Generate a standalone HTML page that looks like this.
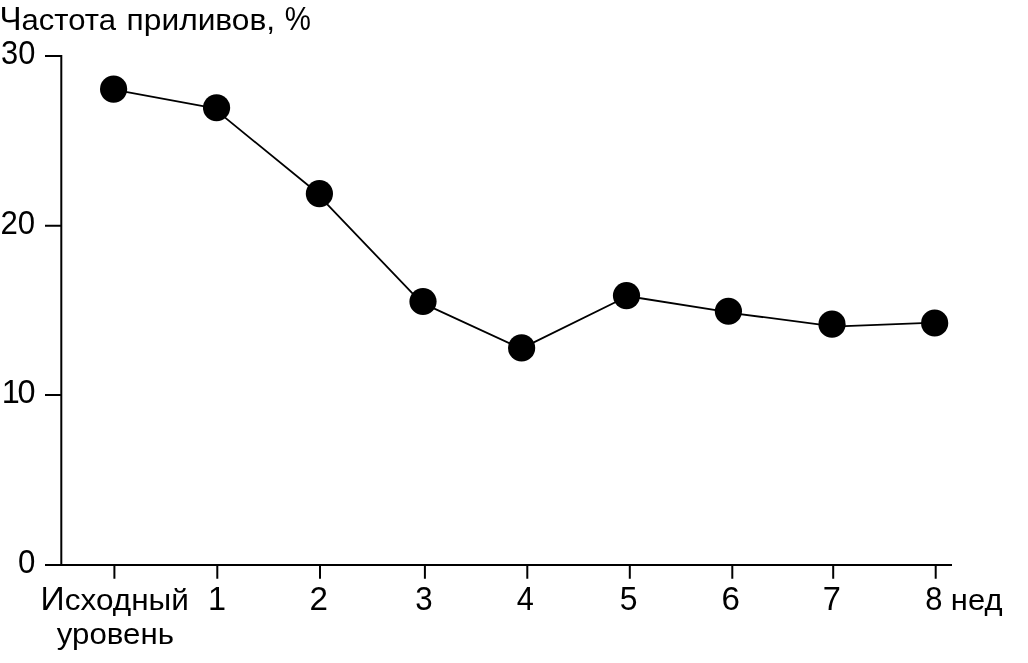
<!DOCTYPE html>
<html lang="ru">
<head>
<meta charset="utf-8">
<title>Частота приливов</title>
<style>
html,body{margin:0;padding:0;background:#fff;}
body{width:1028px;height:663px;overflow:hidden;}
svg{display:block;}
text{font-family:"Liberation Sans",Arial,Helvetica,sans-serif;font-size:32.4px;fill:#000;}
.lc{font-size:30.4px;}
</style>
</head>
<body>
<svg width="1028" height="663" viewBox="0 0 1028 663">
<rect width="1028" height="663" fill="#fff"/>
<g stroke="#000" stroke-width="2" fill="none">
<path d="M61.3 55.0V565"/>
<path d="M45 565H952"/>
<path d="M45 56.0H61.3M45 225.7H61.3M45 395.1H61.3"/>
<path d="M114.4 565V578.8M217.3 565V578.8M320.0 565V578.8M424.9 565V578.8M527.3 565V578.8M629.8 565V578.8M732.3 565V578.8M833.2 565V578.8M935.7 565V578.8"/>
</g>
<g stroke="#000" stroke-width="1.8" fill="none">
<path d="M113.60 89.73L216.55 108.65M216.55 110.67L319.40 194.49M319.40 196.02L423.00 304.48M423.00 303.42L521.60 348.78M521.60 348.43L626.50 296.72M626.50 296.00L728.40 312.05M728.40 312.56L832.00 326.13M832.00 326.56L934.65 322.71"/>
</g>
<g fill="#000">
<circle cx="113.60" cy="89.05" r="13.6"/>
<circle cx="216.55" cy="107.75" r="13.6"/>
<circle cx="319.40" cy="193.70" r="13.6"/>
<circle cx="423.00" cy="301.50" r="13.6"/>
<circle cx="521.60" cy="347.90" r="13.6"/>
<circle cx="626.50" cy="295.55" r="13.6"/>
<circle cx="728.40" cy="311.25" r="13.6"/>
<circle cx="832.00" cy="324.15" r="13.6"/>
<circle cx="934.65" cy="323.00" r="13.6"/>
</g>
<text x="-0.45" y="29.70" textLength="116.39" lengthAdjust="spacingAndGlyphs">Ч<tspan class="lc">астота</tspan></text>
<text class="lc" x="126.60" y="29.70" textLength="148.56" lengthAdjust="spacingAndGlyphs">приливов,</text>
<text x="284.85" y="29.90" textLength="26.15" lengthAdjust="spacingAndGlyphs">%</text>
<text x="1.05" y="63.60" textLength="34.31" lengthAdjust="spacingAndGlyphs">30</text>
<text x="0.50" y="233.50" textLength="34.67" lengthAdjust="spacingAndGlyphs">20</text>
<text x="1.85 17.4" y="403.00">10</text>
<text x="17.90" y="572.70" textLength="17.37" lengthAdjust="spacingAndGlyphs">0</text>
<text x="40.55" y="609.90" textLength="148.28" lengthAdjust="spacingAndGlyphs">И<tspan class="lc">сходный</tspan></text>
<text class="lc" x="56.85" y="644.30" textLength="117.07" lengthAdjust="spacingAndGlyphs">уровень</text>
<text x="208.00" y="609.80">1</text>
<text x="309.40" y="609.80" textLength="18.44" lengthAdjust="spacingAndGlyphs">2</text>
<text x="415.20" y="609.80" textLength="17.38" lengthAdjust="spacingAndGlyphs">3</text>
<text x="516.75" y="609.80" textLength="17.08" lengthAdjust="spacingAndGlyphs">4</text>
<text x="619.80" y="609.80" textLength="17.72" lengthAdjust="spacingAndGlyphs">5</text>
<text x="721.40" y="609.80" textLength="18.38" lengthAdjust="spacingAndGlyphs">6</text>
<text x="822.75" y="609.80" textLength="18.08" lengthAdjust="spacingAndGlyphs">7</text>
<text x="925.25" y="609.80" textLength="17.18" lengthAdjust="spacingAndGlyphs">8</text>
<text class="lc" x="950.85" y="609.80" textLength="51.65" lengthAdjust="spacingAndGlyphs">нед</text>
</svg>
</body>
</html>
